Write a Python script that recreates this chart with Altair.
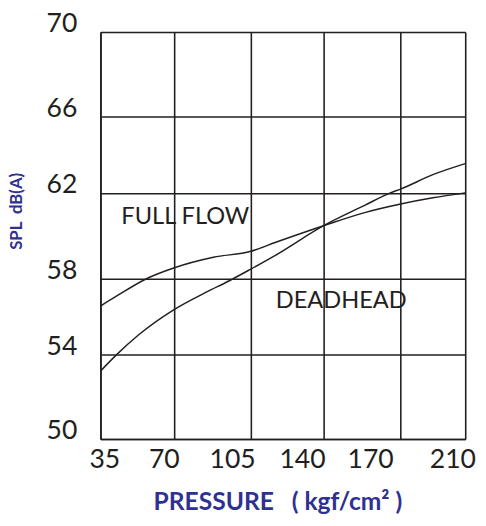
import altair as alt
import pandas as pd

# Tick values
pressure_ticks = [35, 70, 105, 140, 170, 210]
spl_ticks = [50, 54, 58, 62, 66, 70]

# Series
full_flow_p = [35, 43, 57, 70, 88, 105, 117, 140, 156, 170, 190, 210]
full_flow_db = [56.55, 57.1, 58.0, 58.5, 59.0, 59.28, 59.7, 60.47, 61.08, 61.48, 61.77, 62.0]
deadhead_p = [35, 43, 53, 70, 85, 95, 105, 117, 140, 156, 166, 170, 190, 210]
deadhead_db = [53.2, 54.0, 55.0, 56.35, 57.3, 57.88, 58.45, 59.1, 60.47, 61.42, 62.0, 62.2, 62.96, 63.54]

# Curve annotations
label_text = ["FULL FLOW", "DEADHEAD"]
label_p = [45, 117]
label_db = [60.89, 56.83]

rows = []
for p, d in zip(full_flow_p, full_flow_db):
    rows.append({"series": "FULL FLOW", "p": p, "db": d})
for p, d in zip(deadhead_p, deadhead_db):
    rows.append({"series": "DEADHEAD", "p": p, "db": d})
df = pd.DataFrame(rows)
labels_df = pd.DataFrame({"text": label_text, "p": label_p, "db": label_db})

INK = "#231f20"
BLUE = "#2e3192"
FONT = "Lato"

# Hand-drawn grid is slightly uneven: piecewise scales follow it
x_scale = alt.Scale(domain=pressure_ticks, range=[0, 74.5, 153, 227, 305.3, 371])
y_scale = alt.Scale(domain=spl_ticks, range=[414, 327.7, 251, 163.7, 86.3, 0])

x_axis = alt.Axis(
    values=pressure_ticks, grid=True, gridColor=INK, gridWidth=1.6, gridOpacity=1,
    ticks=False, tickSize=0, domain=True, domainColor=INK, domainWidth=1.6,
    labelFont=FONT, labelFontSize=27, labelColor=INK, labelPadding=8,
    labelBaseline="top", labelFlush=False, labelOverlap=False,
    labelOffset={"expr": "datum.value == 35 ? 4 : datum.value == 70 ? -10 : datum.value == 105 ? -19 : datum.value == 140 ? -22 : datum.value == 170 ? -31 : -13"},
    title="PRESSURE\u00a0\u00a0\u00a0( kgf/cm² )", titleFont=FONT, titleFontSize=25,
    titleFontWeight="bold", titleColor=BLUE, titleX=180, titleY=72,
    titleBaseline="alphabetic", titleAlign="center",
)
y_axis = alt.Axis(
    values=spl_ticks, grid=True, gridColor=INK, gridWidth=1.6, gridOpacity=1,
    ticks=False, tickSize=0, domain=True, domainColor=INK, domainWidth=1.6,
    labelFont=FONT, labelFontSize=27, labelColor=INK, labelPadding=24,
    labelBaseline="alphabetic", labelAlign="right", labelFlush=False, labelOverlap=False,
    title="SPL\u00a0\u00a0dB(A)", titleFont=FONT, titleFontSize=17,
    titleFontWeight="bold", titleColor=BLUE, titleAngle=270,
    titleX=-85.5, titleY=182, titleBaseline="middle", titleAlign="center",
)

lines = alt.Chart(df).mark_line(strokeWidth=1.5, interpolate="monotone", clip=True).encode(
    x=alt.X("p:Q", scale=x_scale, axis=x_axis),
    y=alt.Y("db:Q", scale=y_scale, axis=y_axis),
    detail="series:N",
    color=alt.value(INK),
)

texts = alt.Chart(labels_df).mark_text(
    font=FONT, fontSize=24, color=INK, align="left", baseline="middle"
).encode(
    x=alt.X("p:Q", scale=x_scale),
    y=alt.Y("db:Q", scale=y_scale),
    text="text:N",
)

chart = alt.layer(lines, texts).properties(
    width=371,
    height=414,
    autosize=alt.AutoSizeParams(type="none"),
    padding={"left": 94, "top": 20, "right": 13, "bottom": 76},
    title=alt.TitleParams(
        "25cm³/rev", anchor="start", frame="group", font=FONT, fontSize=22,
        fontWeight="bold", color=BLUE, offset=18, dx=11, baseline="alphabetic",
    ),
).configure_view(stroke=INK, strokeWidth=1.6).configure(background="white")

chart.save("out.html", embed_options={"renderer": "svg", "actions": False})
